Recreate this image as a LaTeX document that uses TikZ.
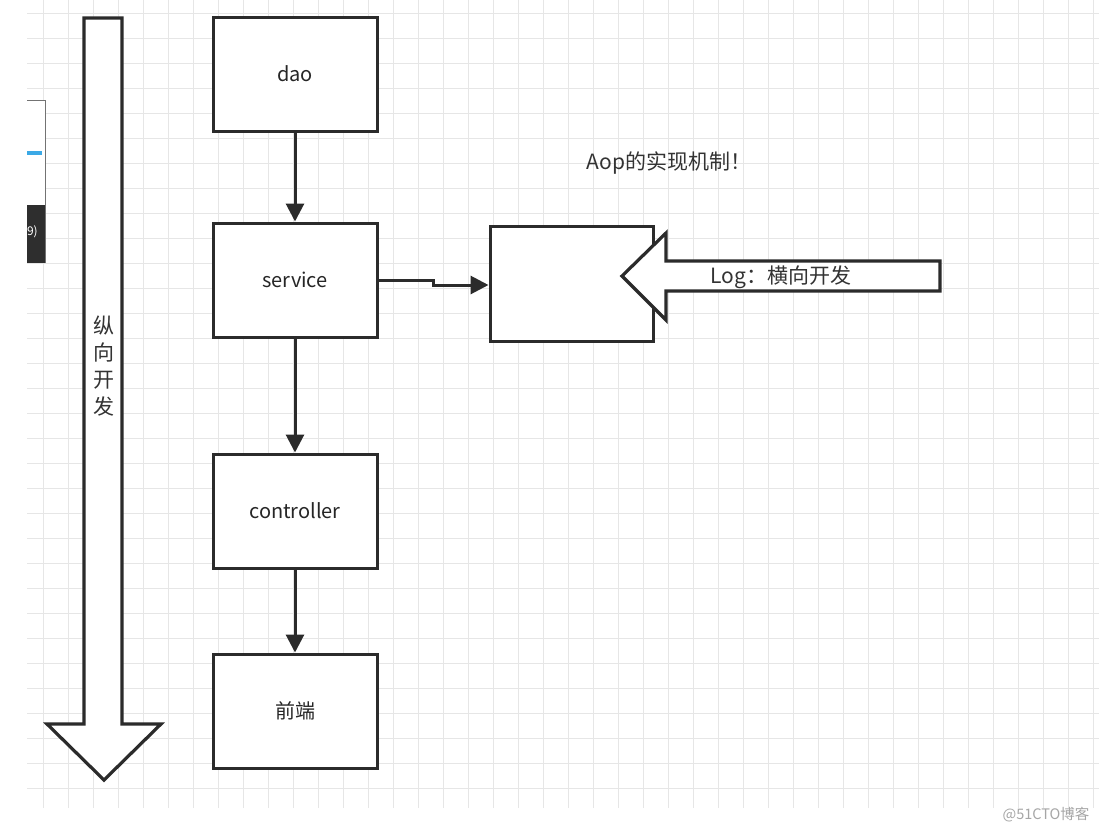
\documentclass[tikz,border=0pt]{standalone}
\usepackage{fontspec}
\setmainfont{Noto Sans CJK SC}
\usetikzlibrary{arrows.meta}
\definecolor{gridc}{HTML}{E6E6E6}
\definecolor{linec}{HTML}{2B2B2B}
\definecolor{darkpanel}{HTML}{2E2E2E}
\definecolor{bluebar}{HTML}{3BA9E6}
\tikzset{
  box/.style={draw=linec, line width=3pt, fill=white, minimum width=164pt, minimum height=114pt, inner sep=0pt, font=\fontsize{20}{24}\selectfont, text=black!85},
  bigarrow/.style={draw=linec, line width=3.2pt, fill=white, line join=miter},
  conn/.style={draw=linec, line width=3pt, -{Triangle[length=18pt,width=18pt]}},
  lbl/.style={font=\fontsize{21}{25}\selectfont, text=black!80, inner sep=0pt},
}
\begin{document}
\begin{tikzpicture}[x=1pt,y=-1pt]
\useasboundingbox (0,0) rectangle (1099,833);
\fill[white] (0,0) rectangle (1099,833);
% grid
\foreach \gx in {43,68,...,1099} \draw[gridc, line width=1pt] (\gx,0) -- (\gx,808);
\foreach \gy in {13,38,...,808} \draw[gridc, line width=1pt] (27,\gy) -- (1099,\gy);
% partial screenshot at left
\fill[white] (27,100) rectangle (45,205);
\draw[black!55, line width=1pt] (27,100) -- (45,100) -- (45,263);
\fill[bluebar] (27,151) rectangle (42,155);
\fill[darkpanel] (27,205) rectangle (45,263);
\node[text=white, font=\fontsize{12}{13}\selectfont, inner sep=0pt, anchor=east] (scr) at (38,232) {9)};
% vertical big arrow
\draw[bigarrow] (84,18) -- (122,18) -- (122,724) -- (161,724) -- (104,780) -- (47,724) -- (84,724) -- cycle;
\node[lbl, align=center, font=\fontsize{21}{27}\selectfont] (zx) at (104,366) {纵\\向\\开\\发};
% boxes
\node[box] (dao) at (295,74) {dao};
\node[box] (service) at (295,280) {service};
\node[box] (controller) at (295,511) {controller};
\node[box] (front) at (295,711) {前端};
\node[draw=linec, line width=3pt, fill=white, minimum width=163pt, minimum height=115pt, inner sep=0pt] (aop) at (571.5,283.5) {};
% connectors
\draw[conn] (dao.south) -- (service.north);
\draw[conn] (service.south) -- (controller.north);
\draw[conn] (controller.south) -- (front.north);
\draw[conn] (service.east) -- (433,280) -- (433,285) -- (aop.west |- 0,285);
% horizontal big arrow
\draw[bigarrow] (940,261) -- (666,261) -- (666,233) -- (622,276) -- (666,320) -- (666,291) -- (940,291) -- cycle;
\node[lbl] (log) at (781,277) {Log：横向开发};
\node[lbl] (title) at (669,163) {Aop的实现机制！};
\node[font=\fontsize{14.5}{17}\selectfont, text=black!35, inner sep=0pt] (wm) at (1046,815) {@51CTO博客};
\end{tikzpicture}
\end{document}
